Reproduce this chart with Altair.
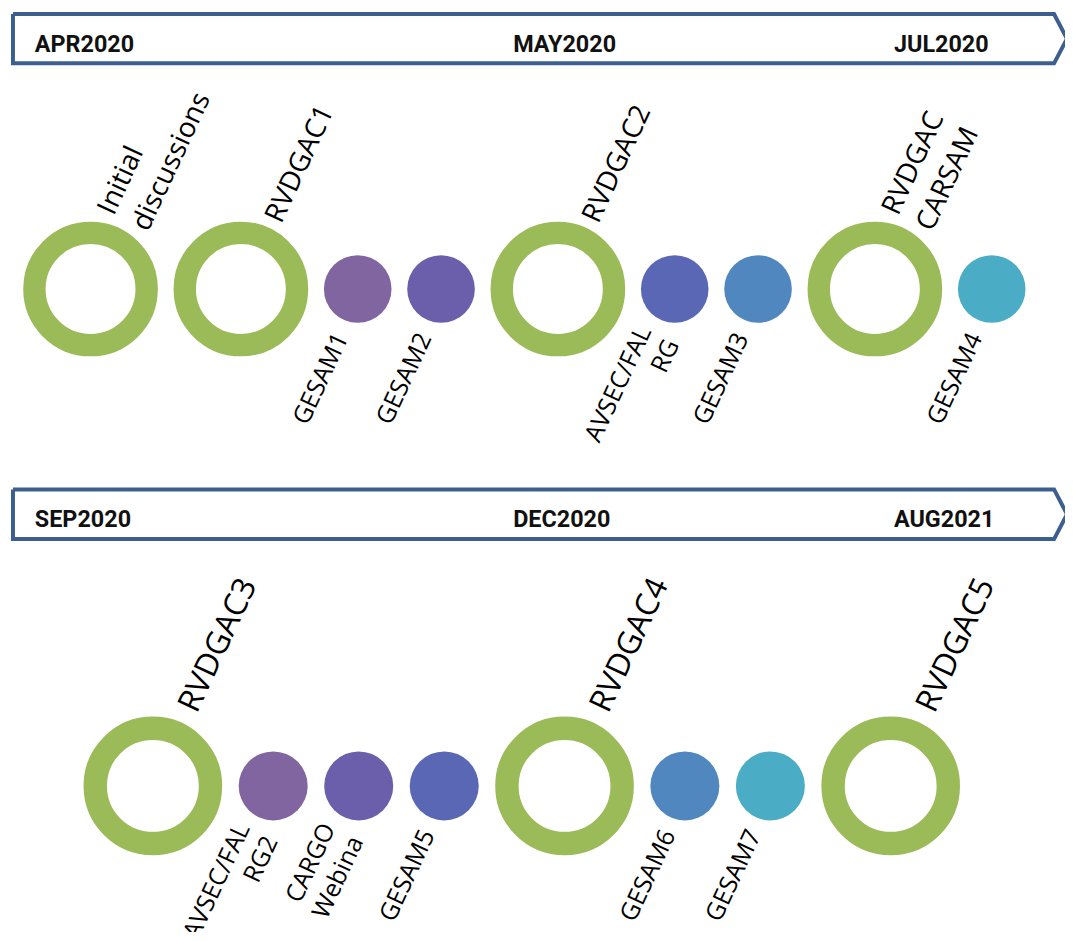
import math
import altair as alt
import pandas as pd

# ---------------- data ----------------
row1_labels = ["Initial\ndiscussions", "RVDGAC1", "GESAM1", "GESAM2", "RVDGAC2",
               "AVSEC/FAL\nRG", "GESAM3", "RVDGAC\nCARSAM", "GESAM4"]
row1_kinds = ["meeting", "meeting", "event", "event", "meeting",
              "event", "event", "meeting", "event"]
row1_colors = ["#9bbb59", "#9bbb59", "#8165a1", "#6b5eaa", "#9bbb59",
               "#5a67b4", "#4f87be", "#9bbb59", "#4bacc6"]
row1_months = ["APR2020", "MAY2020", "JUL2020"]

row2_labels = ["RVDGAC3", "AVSEC/FAL\nRG2", "CARGO\nWebina", "GESAM5", "RVDGAC4",
               "GESAM6", "GESAM7", "RVDGAC5"]
row2_kinds = ["meeting", "event", "event", "event", "meeting",
              "event", "event", "meeting"]
row2_colors = ["#9bbb59", "#8165a1", "#6b5eaa", "#5a67b4", "#9bbb59",
               "#4f87be", "#4bacc6", "#9bbb59"]
row2_months = ["SEP2020", "DEC2020", "AUG2021"]

# ---------------- layout (page pixels) ----------------
W, H = 1063, 924
ORIGIN = 8
BANNER_COLOR = "#3d5f8f"
LABEL_FONT = "Open Sans"
MONTH_FONT = "Roboto"
ANGLE = 295                      # text rotation (degrees, clockwise)
TOP_LH, BOT_LH = 38, 31          # line heights of two-line labels

layouts = [
    dict(cy=288.0, x0=91.0, R=67.7, r=34.0, ring_w=22.5, gap=15.8,
         top_fs=28, bot_fs=25, top_off=(40.5, -65.0), bot_off=(-9.0, 49.0),
         banner=(11.5, 61.0), month_base=49.3),
    dict(cy=787.7, x0=153.7, R=69.7, r=34.7, ring_w=23.5, gap=16.6,
         top_fs=32, bot_fs=25, top_off=(44.0, -72.0), bot_off=(-9.0, 49.0),
         banner=(489.5, 539.5), month_base=527.3),
]
month_x = [35, 516, 899]
banner_left, banner_right, banner_tip = 13, 1060, 1073

# unit vector pointing "down" in the rotated text frame
th = math.radians(ANGLE)
vx, vy = -math.sin(th), math.cos(th)

rows = [(row1_labels, row1_kinds, row1_colors, row1_months),
        (row2_labels, row2_kinds, row2_colors, row2_months)]

ev_records, banner_records, month_records = [], [], []
for ri, ((labels, kinds, colors, months), L) in enumerate(zip(rows, layouts)):
    x = L["x0"]
    prev_rad = None
    for lab, kind, col in zip(labels, kinds, colors):
        rad = L["R"] if kind == "meeting" else L["r"]
        if prev_rad is not None:
            x = x + prev_rad + rad + L["gap"]
        prev_rad = rad
        n = lab.count("\n") + 1
        if kind == "meeting":
            d = 2 * (L["R"] - L["ring_w"] / 2)
            sw = L["ring_w"]
            ox, oy = L["top_off"]
            fs, lh = L["top_fs"], TOP_LH
        else:
            d = 2 * L["r"]
            sw = 0
            ox, oy = L["bot_off"]
            fs, lh = L["bot_fs"], BOT_LH
        shift = (n - 1) * lh / 2
        lx = x + ox - shift * vx
        ly = L["cy"] + oy - shift * vy
        ev_records.append(dict(row=ri, x=x, y=L["cy"], label=lab, kind=kind,
                               color=col, size=d * d, sw=sw, lx=lx, ly=ly, fs=fs))
    top, bot = L["banner"]
    mid = (top + bot) / 2
    verts = [(banner_left, top), (banner_right, top), (banner_tip, mid),
             (banner_right, bot), (banner_left, bot), (banner_left, top)]
    for k, (bx, by) in enumerate(verts):
        banner_records.append(dict(row=ri, order=k, x=bx, y=by))
    for m, mx in zip(months, month_x):
        month_records.append(dict(row=ri, text=m, x=mx, y=L["month_base"]))

events = pd.DataFrame(ev_records)
banner = pd.DataFrame(banner_records)
monthdf = pd.DataFrame(month_records)

xs = alt.Scale(domain=[ORIGIN, ORIGIN + W], range=[0, W], nice=False, zero=False)
ys = alt.Scale(domain=[ORIGIN, ORIGIN + H], range=[0, H], nice=False, zero=False)


def X(f):
    return alt.X(f, type="quantitative", scale=xs, axis=None)


def Y(f):
    return alt.Y(f, type="quantitative", scale=ys, axis=None)


banner_layer = alt.Chart(banner).mark_line(
    color=BANNER_COLOR, strokeWidth=4, strokeJoin="miter"
).encode(x=X("x"), y=Y("y"), order="order:Q", detail="row:N")

rings = alt.Chart(events).transform_filter(
    alt.datum.kind == "meeting"
).mark_point(shape="circle", filled=False, opacity=1).encode(
    x=X("x"), y=Y("y"),
    size=alt.Size("size:Q", scale=None),
    strokeWidth=alt.StrokeWidth("sw:Q", scale=None),
    color=alt.Color("color:N", scale=None),
)

dots = alt.Chart(events).transform_filter(
    alt.datum.kind == "event"
).mark_circle(opacity=1).encode(
    x=X("x"), y=Y("y"),
    size=alt.Size("size:Q", scale=None),
    color=alt.Color("color:N", scale=None),
)

top_labels = alt.Chart(events).transform_filter(
    alt.datum.kind == "meeting"
).mark_text(angle=ANGLE, align="left", baseline="alphabetic", font=LABEL_FONT,
            lineBreak="\n", lineHeight=TOP_LH, color="black").encode(
    x=X("lx"), y=Y("ly"), text="label:N",
    size=alt.Size("fs:Q", scale=None),
)

bottom_labels = alt.Chart(events).transform_filter(
    alt.datum.kind == "event"
).mark_text(angle=ANGLE, align="right", baseline="alphabetic", font=LABEL_FONT,
            lineBreak="\n", lineHeight=BOT_LH, color="black").encode(
    x=X("lx"), y=Y("ly"), text="label:N",
    size=alt.Size("fs:Q", scale=None),
)

month_labels = alt.Chart(monthdf).mark_text(
    font=MONTH_FONT, fontWeight="bold", fontSize=23.5, align="left",
    baseline="alphabetic", color="#111111"
).encode(x=X("x"), y=Y("y"), text="text:N")

chart = alt.layer(
    banner_layer, rings, dots, top_labels, bottom_labels, month_labels
).properties(
    width=W, height=H, padding=0,
    autosize=alt.AutoSizeParams(type="none"),
).configure_view(stroke=None)

chart.save("out.html", embed_options={"renderer": "svg", "actions": False})
